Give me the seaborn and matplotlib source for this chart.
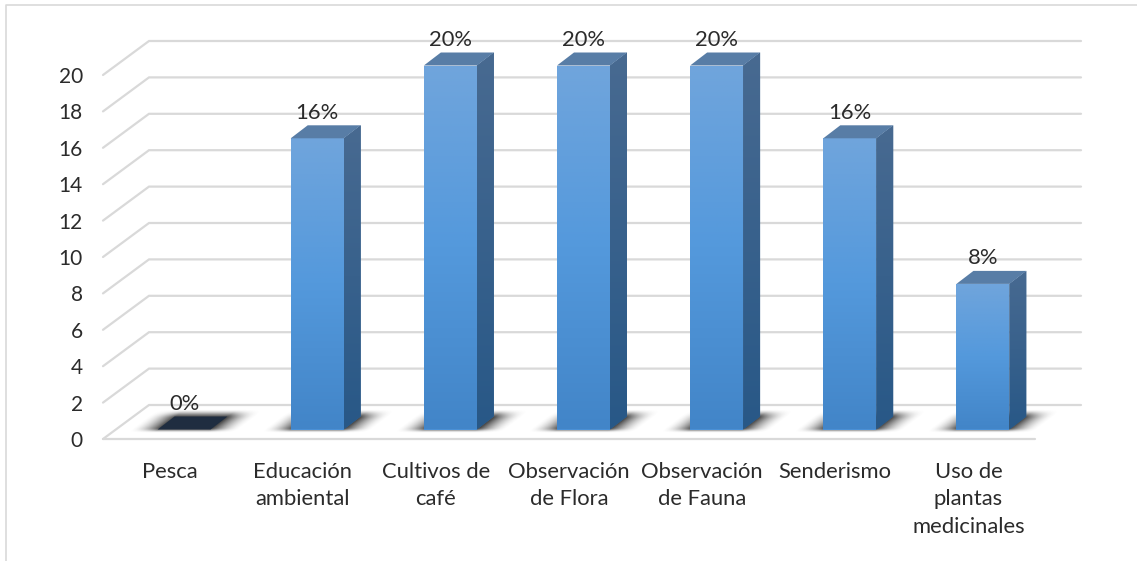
import numpy as np
import pandas as pd
import seaborn as sns
import matplotlib
matplotlib.use("Agg")
import matplotlib.pyplot as plt
from matplotlib.patches import Polygon
from matplotlib.lines import Line2D
from matplotlib.colors import LinearSegmentedColormap

categories = ["Pesca", "Educación\nambiental", "Cultivos de\ncafé", "Observación\nde Flora",
              "Observación\nde Fauna", "Senderismo", "Uso de\nplantas\nmedicinales"]
values = [0, 16, 20, 20, 20, 16, 8]
y_ticks = list(range(0, 21, 2))

W, H = 1137, 561
PX_X = 932 / 7            # pixels per category
PX_Y = 364 / 20           # pixels per unit
GRID = "#d9d9d9"
TEXT = "#2b2b2b"

sns.set_theme(style="white")
plt.rcParams["font.family"] = ["Lato", "DejaVu Sans"]

fig = plt.figure(figsize=(W / 100, H / 100), dpi=100)
ax = fig.add_axes([103 / W, (H - 439) / H, 932 / W, 398 / H])

df = pd.DataFrame({"categoria": categories, "valor": values})
sns.barplot(data=df, x="categoria", y="valor", color="#4a90d6", width=53 / PX_X,
            saturation=1, ax=ax, zorder=5, edgecolor="none", linewidth=0)
ax.set_xlim(-0.5, 6.5)
ax.set_ylim(0, 398 / PX_Y)
ax.set_xlabel("")
ax.set_ylabel("")
sns.despine(ax=ax, left=True, bottom=True)
ax.set_yticks(y_ticks)
ax.tick_params(axis="y", length=0, pad=14.5, labelsize=15, labelcolor=TEXT)
ax.tick_params(axis="x", length=0, pad=16.5, labelsize=15.8, labelcolor=TEXT)
for lab in ax.get_xticklabels():
    lab.set_linespacing(1.46)
ax.patch.set_alpha(0)

# 3D offsets in data units
wall_dx, wall_dy = 46 / PX_X, 34 / PX_Y
bar_dx, bar_dy = 17 / PX_X, 13 / PX_Y
bar_shift, bar_base = 14.5 / PX_X, 9.5 / PX_Y

# walls and floor gridlines
for t in y_ticks:
    ax.plot([-0.5, -0.5 + wall_dx, 6.5 + wall_dx], [t, t + wall_dy, t + wall_dy],
            color=GRID, lw=1.6, clip_on=False, zorder=1, solid_joinstyle="miter")
ax.plot([-0.5, 6.5], [0, 0], color=GRID, lw=1.6, clip_on=False, zorder=1)


def vgrad(c_top, c_bottom):
    cm = LinearSegmentedColormap.from_list("g", [c_top, c_bottom])
    return cm(np.linspace(0, 1, 256))[:, None, :]


def smooth(t):
    t = np.clip(t, 0, 1)
    return t * t * (3 - 2 * t)


front_grad = LinearSegmentedColormap.from_list(
    "f", ["#70a5dc", "#5499dc", "#4285c8"])(np.linspace(0, 1, 256))[:, None, :]
side_grad = vgrad("#486a91", "#285887")

# blurred floor shadow (pixel grid in data space)
gx = np.linspace(-45, 115, 160)  # px relative to bar's left edge
gy = np.linspace(-20, 4, 48)     # px above the bar's base (negative = up)
XX, YY = np.meshgrid(gx, gy)
skew = -YY * 17 / 13
left_out = np.clip((skew + 1) - XX, 0, None)
right_out = np.clip(XX - (53 + skew + 1), 0, None)
a_x = np.clip(1 - (left_out + right_out) / 28, 0, 1) ** 1.7
a_y = smooth((YY + 20) / 9) * smooth((4 - YY) / 5)
shadow = np.zeros(XX.shape + (4,))
shadow[..., :3] = 0.24
shadow[..., 3] = a_x * a_y * 0.95

bars = list(ax.containers[0])
for bar, v in zip(bars, values):
    x0 = bar.get_x() + bar_shift
    w = bar.get_width()
    y0 = bar_base
    bar.set_x(x0)
    bar.set_y(y0)
    x1 = x0 + w
    top = y0 + v
    ax.imshow(shadow, extent=[x0 - 45 / PX_X, x0 + 115 / PX_X, y0 - 4 / PX_Y, y0 + 20 / PX_Y],
              origin="upper", aspect="auto", zorder=2, clip_on=False, interpolation="bilinear")
    if v > 0:
        im = ax.imshow(front_grad, extent=[x0, x1, y0, top], aspect="auto", zorder=6)
        im.set_clip_path(bar)
        side = Polygon([(x1, y0), (x1 + bar_dx, y0 + bar_dy), (x1 + bar_dx, top + bar_dy), (x1, top)],
                       closed=True, facecolor="#3a6590", edgecolor="none", zorder=5)
        ax.add_patch(side)
        im2 = ax.imshow(side_grad, extent=[x1, x1 + bar_dx, y0, top + bar_dy], aspect="auto", zorder=6)
        im2.set_clip_path(side)
    top_color = "#587da6" if v > 0 else "#1f2d40"
    ax.add_patch(Polygon([(x0, top), (x1, top), (x1 + bar_dx, top + bar_dy), (x0 + bar_dx, top + bar_dy)],
                         closed=True, facecolor=top_color, edgecolor="none", zorder=7, clip_on=False))
    ax.annotate(f"{v}%", xy=(x0 + w / 2, top), xytext=(0, 18.5), textcoords="offset points",
                ha="center", va="center", fontsize=15.8, color=TEXT, zorder=8)

ax.set_xlim(-0.5, 6.5)
ax.set_ylim(0, 398 / PX_Y)

# outer chart border (left and top only)
fig.add_artist(Line2D([5.5 / W, 5.5 / W, 1], [0, 1 - 4.5 / H, 1 - 4.5 / H],
                      color="#d9d9d9", lw=1.2, transform=fig.transFigure))

fig.savefig("out.png", dpi=100, facecolor="white")
